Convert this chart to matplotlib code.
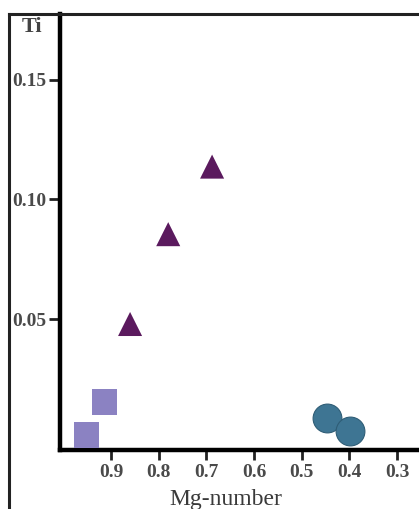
import matplotlib
matplotlib.use('Agg')
import matplotlib.pyplot as plt
from matplotlib.lines import Line2D

# Mg-number vs Ti for the three groups
tri_mg = [0.86, 0.78, 0.688]
tri_ti = [0.048, 0.0855, 0.1137]
sq_mg = [0.913, 0.951]
sq_ti = [0.0154, 0.0017]
circ_mg = [0.448, 0.399]
circ_ti = [0.0087, 0.0034]

x_ticks = [0.9, 0.8, 0.7, 0.6, 0.5, 0.4, 0.3]
y_ticks = [0.05, 0.10, 0.15]

plt.rcParams['font.family'] = ['Liberation Serif', 'DejaVu Serif']

fig = plt.figure(figsize=(4.19, 5.09), dpi=100)
ax = fig.add_axes([60 / 419, 1 - 450 / 509, 1 - 60 / 419, (450 - 14) / 509])

ax.scatter(tri_mg, tri_ti, marker='^', s=300, color='#5b1a5e', edgecolors='none', zorder=3)
ax.scatter(sq_mg, sq_ti, marker='s', s=330, color='#8b82c2', edgecolors='none', zorder=3)
ax.scatter(circ_mg, circ_ti, marker='o', s=430, color='#3e7593', edgecolors='#2f5d76',
           linewidths=0.8, zorder=3, clip_on=False)

ax.set_xlim(1.007, 0.254)
ax.set_ylim(-0.0046, 0.1774)

ax.spines['top'].set_visible(False)
ax.spines['right'].set_visible(False)
ax.spines['left'].set_linewidth(3.2)
ax.spines['bottom'].set_linewidth(3.2)

ax.set_xticks(x_ticks)
ax.set_xticklabels([f'{v:.1f}' for v in x_ticks])
ax.set_yticks(y_ticks)
ax.set_yticklabels([f'{v:.2f}' for v in y_ticks])
ax.tick_params(axis='y', direction='out', length=8, width=2, color='#222222',
               labelsize=14, labelcolor='#4a4a4a', pad=2)
ax.tick_params(axis='x', direction='out', length=7, width=2, color='#222222',
               labelsize=14, labelcolor='#4a4a4a', pad=3)
for lbl in ax.get_xticklabels() + ax.get_yticklabels():
    lbl.set_fontweight('bold')

# outer frame lines and axis labels
fig.add_artist(Line2D([9 / 419, 1], [1 - 14 / 509, 1 - 14 / 509], color='#222222', lw=2.2))
fig.add_artist(Line2D([9 / 419, 9 / 419], [0, 1 - 14 / 509], color='#222222', lw=2.2))
fig.text(32 / 419, 1 - 27 / 509, 'Ti', ha='center', va='center', fontsize=16,
         fontweight='bold', color='#444444')
fig.text(226 / 419, 1 - 499 / 509, 'Mg-number', ha='center', va='center', fontsize=17,
         color='#3a3a3a')

fig.savefig('out.png', dpi=100)
